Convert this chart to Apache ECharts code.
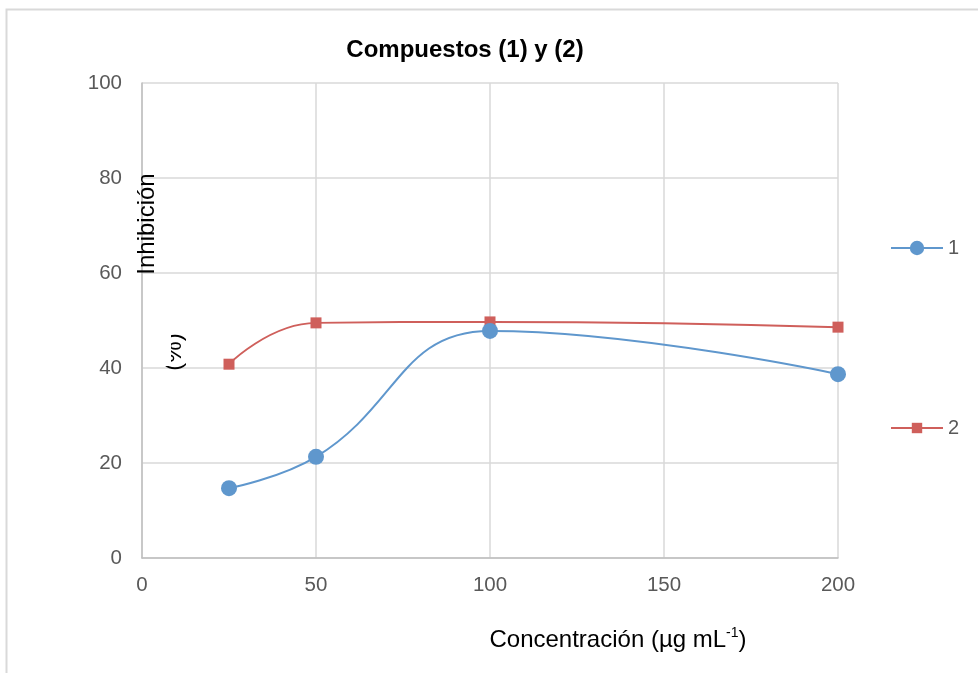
<!DOCTYPE html>
<html>
<head>
<meta charset="utf-8">
<script src="https://cdn.jsdelivr.net/npm/echarts@6/dist/echarts.min.js"></script>
<style>
  html, body { margin: 0; padding: 0; background: #ffffff; }
  #chart { width: 978px; height: 673px; }
</style>
</head>
<body>
<div id="chart"></div>
<script>
// Concentration (µg/mL) and inhibition (%) for compounds 1 and 2
const concentrations = [25, 50, 100, 200];
const compuesto1 = [14.7, 21.3, 47.8, 38.7];
const compuesto2 = [40.8, 49.5, 49.7, 48.6];
const xTicks = [0, 50, 100, 150, 200];
const yTicks = [0, 20, 40, 60, 80, 100];

const FONT = 'Liberation Sans, Arial, sans-serif';
const BLUE = '#5f97cd';
const RED = '#cf5f5b';

const chart = echarts.init(document.getElementById('chart'), null, { renderer: 'canvas' });

const pairs = (xs, ys) => xs.map((x, i) => [x, ys[i]]);

const legendText = { fontFamily: FONT, fontSize: 20, color: '#595959' };

chart.setOption({
  backgroundColor: '#ffffff',
  animation: false,
  title: {
    text: 'Compuestos (1) y (2)',
    left: 460, top: 33, textAlign: 'center',
    textStyle: { fontFamily: FONT, fontSize: 24, fontWeight: 'bold', color: '#000000' }
  },
  grid: { left: 142, right: 140, top: 83, bottom: 115, containLabel: false },
  xAxis: {
    type: 'value',
    min: xTicks[0], max: xTicks[xTicks.length - 1], interval: xTicks[1] - xTicks[0],
    axisLine: { show: true, lineStyle: { color: '#bfbfbf', width: 1.5 } },
    axisTick: { show: false },
    axisLabel: { margin: 17, fontFamily: FONT, fontSize: 20.5, color: '#595959' },
    splitLine: { show: true, lineStyle: { color: '#d9d9d9', width: 1.5 } }
  },
  yAxis: {
    type: 'value',
    min: yTicks[0], max: yTicks[yTicks.length - 1], interval: yTicks[1] - yTicks[0],
    axisLine: { show: true, lineStyle: { color: '#bfbfbf', width: 1.5 } },
    axisTick: { show: false },
    axisLabel: { margin: 20, fontFamily: FONT, fontSize: 20.5, color: '#595959' },
    splitLine: { show: true, lineStyle: { color: '#d9d9d9', width: 1.5 } }
  },
  legend: [
    {
      data: ['1'], orient: 'vertical', left: 890, top: 238, padding: 0,
      itemWidth: 52, itemHeight: 18, itemGap: 0,
      textStyle: legendText
    },
    {
      data: ['2'], orient: 'vertical', left: 890, top: 418, padding: 0,
      itemWidth: 52, itemHeight: 13, itemGap: 0,
      textStyle: legendText
    }
  ],
  series: [
    {
      name: '1', type: 'line', smooth: 0.45,
      data: pairs(concentrations, compuesto1),
      symbol: 'circle', symbolSize: 16,
      lineStyle: { color: BLUE, width: 2 },
      itemStyle: { color: BLUE },
      z: 3
    },
    {
      name: '2', type: 'line', smooth: 0.5,
      data: pairs(concentrations, compuesto2),
      symbol: 'rect', symbolSize: 11,
      lineStyle: { color: RED, width: 2 },
      itemStyle: { color: RED },
      z: 2
    }
  ],
  graphic: [
    {
      type: 'rect', silent: true, z: 100,
      shape: { x: 6.5, y: 9.5, width: 1000, height: 700 },
      style: { fill: 'none', stroke: '#d9d9d9', lineWidth: 2 }
    },
    {
      type: 'text', x: 147, y: 224, rotation: Math.PI / 2, z: 100,
      style: {
        text: 'Inhibición', align: 'center', verticalAlign: 'middle',
        font: '24px ' + FONT, fill: '#000000'
      }
    },
    {
      type: 'text', x: 174, y: 352, rotation: Math.PI / 2, z: 100,
      style: {
        text: '(%)', align: 'center', verticalAlign: 'middle',
        font: '24px ' + FONT, fill: '#000000'
      }
    },
    {
      type: 'rect', silent: true, z: 101,
      shape: { x: 158, y: 330, width: 13, height: 36 },
      style: { fill: '#ffffff' }
    },
    {
      type: 'text', x: 618, y: 640, z: 100,
      style: {
        text: '{n|Concentración (µg mL}{s|-1}{n|)}',
        align: 'center', verticalAlign: 'middle',
        rich: {
          n: { fontFamily: FONT, fontSize: 24, fill: '#000000', color: '#000000' },
          s: { fontFamily: FONT, fontSize: 14, fill: '#000000', color: '#000000', verticalAlign: 'top', padding: [0, 0, 14, 0] }
        }
      }
    }
  ]
});
</script>
</body>
</html>
